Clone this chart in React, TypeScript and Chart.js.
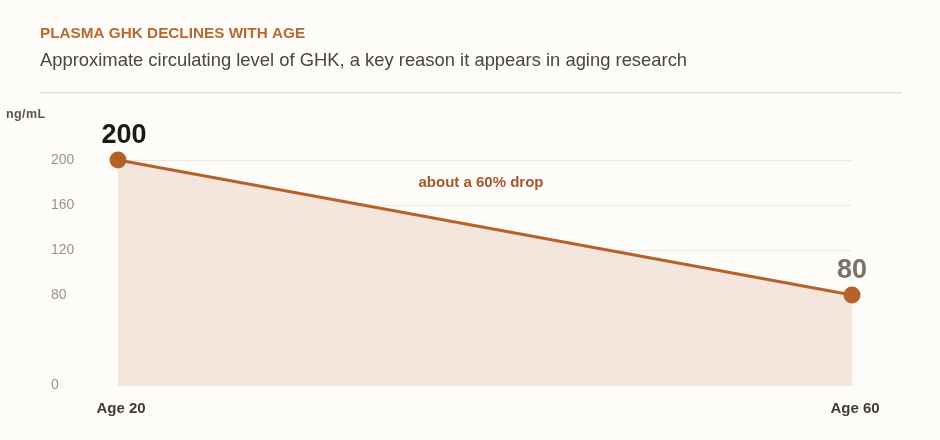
import React, { useEffect, useRef } from 'react';
import { Chart, registerables } from 'chart.js';

Chart.register(...registerables);

const ages = ['Age 20', 'Age 60'];
const ghkLevels = [200, 80];
const yTicks = [0, 80, 120, 160, 200];
const valueColors = ['#1c1a18', '#7b7269'];

const FONT = '"Liberation Sans", Arial, Helvetica, sans-serif';

const textPlugin = {
    id: 'textPlugin',
    afterDraw(chart: any) {
        const { ctx, scales } = chart;
        const x = scales.x;
        const y = scales.y;
        ctx.save();

        // header
        ctx.textAlign = 'left';
        ctx.textBaseline = 'alphabetic';
        ctx.fillStyle = '#b8692f';
        ctx.font = `bold 15.3px ${FONT}`;
        ctx.fillText('PLASMA GHK DECLINES WITH AGE', 40, 38);
        ctx.fillStyle = '#4a4540';
        ctx.font = `18.4px ${FONT}`;
        ctx.fillText('Approximate circulating level of GHK, a key reason it appears in aging research', 40, 66);
        ctx.fillStyle = '#e6e0d8';
        ctx.fillRect(40, 92, 862, 1.5);

        // unit label
        ctx.fillStyle = '#5a544e';
        ctx.font = `bold 12.5px ${FONT}`;
        ctx.letterSpacing = '0.4px';
        ctx.textBaseline = 'middle';
        ctx.fillText('ng/mL', 6, 115);
        ctx.letterSpacing = '0px';

        // y tick labels, left aligned
        ctx.fillStyle = '#9b938b';
        ctx.font = `14px ${FONT}`;
        y.ticks.forEach((t: any) => {
            ctx.fillText(String(t.value), 51, y.getPixelForValue(t.value));
        });

        // x labels
        ctx.textAlign = 'center';
        ctx.fillStyle = '#3f3a35';
        ctx.font = `bold 15px ${FONT}`;
        ages.forEach((a, i) => {
            ctx.fillText(a, x.getPixelForValue(i) + 3, 409);
        });

        // value labels
        ctx.textBaseline = 'alphabetic';
        ctx.font = `bold 27px ${FONT}`;
        ghkLevels.forEach((v, i) => {
            ctx.fillStyle = valueColors[i];
            const px = x.getPixelForValue(i) + (i === 0 ? 6 : 0);
            ctx.fillText(String(v), px, y.getPixelForValue(v) - 17);
        });

        // annotation
        const first = ghkLevels[0];
        const last = ghkLevels[ghkLevels.length - 1];
        const drop = Math.round(((first - last) / first) * 100);
        ctx.fillStyle = '#a5582b';
        ctx.font = `bold 15px ${FONT}`;
        ctx.textBaseline = 'middle';
        const mx = (x.getPixelForValue(0) + x.getPixelForValue(ages.length - 1)) / 2 - 4;
        ctx.fillText(`about a ${drop}% drop`, mx, y.getPixelForValue(180));

        ctx.restore();
    },
};

function GhkChart() {
    const canvas = useRef<HTMLCanvasElement | null>(null);
    useEffect(() => {
        const item = canvas.current?.getContext('2d');
        const chart =
            item &&
            new Chart(item, {
                type: 'line',
                data: {
                    labels: ages,
                    datasets: [
                        {
                            data: ghkLevels,
                            borderColor: '#b5622a',
                            borderWidth: 3,
                            backgroundColor: '#f4e6dd',
                            fill: 'origin',
                            pointRadius: 8.5,
                            pointBackgroundColor: '#b5622a',
                            pointBorderWidth: 0,
                            tension: 0,
                            clip: false,
                        },
                    ],
                },
                options: {
                    responsive: false,
                    animation: false,
                    layout: { padding: { left: 118, right: 88, top: 160, bottom: 55 } },
                    plugins: {
                        legend: { display: false },
                        tooltip: { enabled: false },
                    },
                    scales: {
                        x: {
                            offset: false,
                            grid: { display: false, drawTicks: false },
                            border: { display: false },
                            ticks: { display: false },
                        },
                        y: {
                            min: 0,
                            max: 200,
                            afterBuildTicks: (axis: any) => {
                                axis.ticks = yTicks.map((v) => ({ value: v }));
                            },
                            grid: { color: '#efe9e2', lineWidth: 1, drawTicks: false },
                            border: { display: false },
                            ticks: { display: false },
                        },
                    },
                },
                plugins: [textPlugin],
            });
        return () => chart?.destroy();
    });
    return <canvas ref={canvas} width={940} height={440} />;
}

export default function App() {
    return (
        <div
            style={{
                position: 'fixed',
                left: 0,
                top: 0,
                width: 940,
                height: 440,
                background: '#fdfcf9',
            }}
        >
            <GhkChart />
        </div>
    );
}
